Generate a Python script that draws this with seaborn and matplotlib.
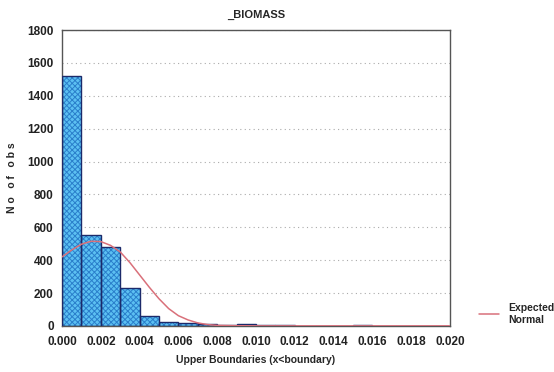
import numpy as np
import matplotlib
matplotlib.use("Agg")
import matplotlib.pyplot as plt
import seaborn as sns

# Histogram: upper boundaries of bins and observed counts
bin_upper = [0.001, 0.002, 0.003, 0.004, 0.005, 0.006, 0.007, 0.008, 0.009, 0.010,
             0.011, 0.012, 0.013, 0.014, 0.015, 0.016, 0.017, 0.018, 0.019, 0.020]
counts = [1520, 553, 480, 231, 61, 26, 18, 12, 8, 10,
          3, 3, 2, 2, 1, 4, 0, 1, 0, 0]

# Expected normal curve
curve_x = [0.0, 0.0005, 0.001, 0.0015, 0.002, 0.0025, 0.003, 0.0035, 0.004, 0.0045,
           0.005, 0.0055, 0.006, 0.0065, 0.007, 0.0075, 0.008, 0.009, 0.010, 0.012, 0.020]
curve_y = [420, 462, 497, 515, 513, 490, 450, 385, 310, 235,
           165, 105, 62, 36, 18, 8, 3, 1, 0, 0, 0]

x_ticks = [0.000, 0.002, 0.004, 0.006, 0.008, 0.010, 0.012, 0.014, 0.016, 0.018, 0.020]
y_ticks = [0, 200, 400, 600, 800, 1000, 1200, 1400, 1600, 1800]

sns.set_style("white")
plt.rcParams['font.family'] = ['Liberation Sans', 'DejaVu Sans']
plt.rcParams['hatch.linewidth'] = 0.7

fig = plt.figure(figsize=(5.54, 3.72), dpi=100)
ax = fig.add_axes([0.112, 0.124, 0.700, 0.795])

width = 0.001
centers = [u - width / 2 for u in bin_upper]
edges = [0.0] + bin_upper

sns.histplot(x=centers, weights=counts, bins=edges, ax=ax,
             color="#4fb6ec", edgecolor="#2a80cc", linewidth=0, alpha=1.0)
for p in list(ax.patches):
    p.set_hatch("xxxxxx")
    p.set_facecolor("#5cc0f2")
    p.set_edgecolor("#2a7fcb")
    p.set_linewidth(0)
    outline = plt.Rectangle(p.get_xy(), p.get_width(), p.get_height(),
                            fill=False, edgecolor="#1c2a6a", linewidth=1.0, zorder=3)
    ax.add_patch(outline)

sns.lineplot(x=curve_x, y=curve_y, ax=ax, color="#d9707a", linewidth=1.1,
             label="Expected\nNormal", zorder=4)

ax.set_xlim(0, 0.020)
ax.set_ylim(0, 1800)
ax.set_xticks(x_ticks)
ax.set_xticklabels([f"{t:.3f}" for t in x_ticks])
ax.set_yticks(y_ticks)
ax.set_yticklabels([str(t) for t in y_ticks])
ax.tick_params(axis='both', labelsize=8.5, length=0, colors="#222222")
ax.tick_params(axis='x', pad=7)
ax.tick_params(axis='y', pad=6)
for lab in ax.get_xticklabels() + ax.get_yticklabels():
    lab.set_fontweight('bold')

ax.yaxis.grid(True, linestyle=(0, (1, 3)), color="#aaaaaa", linewidth=0.8)
ax.xaxis.grid(False)
ax.set_axisbelow(True)
for s in ax.spines.values():
    s.set_visible(True)
    s.set_color("#555555")
    s.set_linewidth(1.0)

ax.set_title("_BIOMASS", fontsize=8, fontweight='bold', pad=9)
ax.set_xlabel("Upper Boundaries (x<boundary)", fontsize=7.5, fontweight='bold', labelpad=5)
ax.set_ylabel("N o   o f   o b s", fontsize=7.5, fontweight='bold', labelpad=7)

leg = ax.legend(loc='center left', bbox_to_anchor=(1.05, 0.04), frameon=False,
                fontsize=7.5, handlelength=2.0, handletextpad=0.8)
for t in leg.get_texts():
    t.set_fontweight('bold')

fig.savefig("out.png", dpi=100)
